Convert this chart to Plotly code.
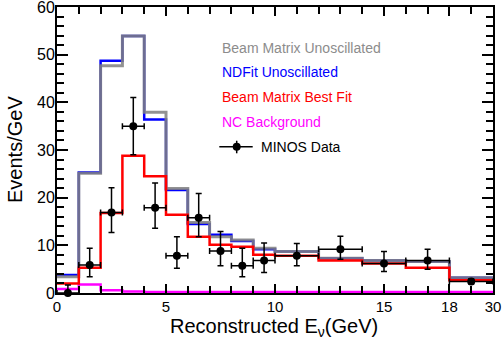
import plotly.graph_objects as go

# ---------------- data ----------------
bin_edges = [0, 1, 2, 3, 4, 5, 6, 7, 8, 9, 10, 12, 14, 16, 18, 30]
beam_unosc = [3.4, 25.1, 47.7, 53.9, 37.9, 21.9, 14.8, 11.8, 11.1, 9.4, 8.7, 7.3, 6.8, 6.6, 3.2]
ndfit_unosc = [3.8, 25.3, 48.7, 53.9, 36.4, 21.6, 14.5, 12.2, 10.9, 9.2, 8.7, 7.3, 6.8, 6.6, 3.2]
beam_bestfit = [2.0, 5.3, 16.8, 28.8, 24.5, 16.4, 11.8, 10.1, 9.7, 8.0, 7.8, 6.8, 6.2, 5.3, 2.7]
nc_background = [0.85, 1.8, 0.6, 0.3, 0.2, 0.2, 0.2, 0.2, 0.2, 0.2, 0.2, 0.2, 0.2, 0.2, 0.2]
data_vals = [0.0, 5.9, 16.9, 35.0, 17.9, 7.8, 15.8, 8.8, 5.7, 6.8, 7.8, 9.2, 6.2, 6.8, 2.4]
data_err_up = [1.7, 3.5, 5.2, 6.0, 5.2, 4.0, 5.1, 4.1, 3.7, 3.7, 2.6, 2.7, 2.5, 2.4, 0.6]
data_err_dn = [0.0, 2.5, 4.2, 6.0, 4.3, 2.6, 4.0, 3.1, 2.3, 2.5, 2.1, 2.1, 1.7, 1.8, 0.5]

x_tick_values = [0, 5, 10, 15, 18, 30]
x_tick_labels = ["0", "5", "10", "15", "18", "30"]
y_tick_values = [0, 10, 20, 30, 40, 50, 60]

legend_labels = ["Beam Matrix Unoscillated", "NDFit Unoscillated",
                 "Beam Matrix Best Fit", "NC Background"]
legend_colors = ["#8c8c8c", "#0000ff", "#ff0000", "#ff00ff"]


# broken x axis: 0-18 GeV linear, 18-30 GeV squeezed into 2 display units
def disp(e):
    return e if e <= 18 else 18 + (e - 18) / 6.0


dx = [disp(e) for e in bin_edges]
centers = [(dx[i] + dx[i + 1]) / 2 for i in range(len(dx) - 1)]
half_w = [(dx[i + 1] - dx[i]) / 2 for i in range(len(dx) - 1)]

FONT = "Liberation Sans, Arial, Helvetica, sans-serif"

fig = go.Figure()


def step(vals, color, width, opacity=1.0):
    fig.add_trace(go.Scatter(
        x=dx, y=list(vals) + [vals[-1]], mode="lines",
        line=dict(color=color, width=width, shape="hv"),
        opacity=opacity, showlegend=False, hoverinfo="skip", cliponaxis=False))


step(nc_background, "#ff00ff", 2.5)
step(ndfit_unosc, "#0000ff", 2.5)
step(beam_unosc, "#808080", 3, 0.85)
step(beam_bestfit, "#ff0000", 2.5)

fig.add_trace(go.Scatter(
    x=centers, y=data_vals, mode="markers",
    marker=dict(color="black", size=8),
    error_y=dict(type="data", symmetric=False, array=data_err_up,
                 arrayminus=data_err_dn, color="black", thickness=1.5, width=3),
    error_x=dict(type="data", array=half_w, color="black", thickness=1.5, width=3),
    showlegend=False, hoverinfo="skip", cliponaxis=False))

# ---------------- layout ----------------
L, R, T, B = 57, 493, 6.5, 293.5
PW, PH = R - L, B - T


def px(x):
    return (x - L) / PW


def py(y):
    return (B - y) / PH


annotations = []
for i, (lab, col) in enumerate(zip(legend_labels, legend_colors)):
    annotations.append(dict(
        x=px(220), y=py(47.3 + 24.8 * i), xref="paper", yref="paper",
        text=lab, showarrow=False, xanchor="left", yanchor="middle",
        font=dict(family=FONT, size=14, color=col)))
annotations.append(dict(
    x=px(259), y=py(146.7), xref="paper", yref="paper", text="MINOS Data",
    showarrow=False, xanchor="left", yanchor="middle",
    font=dict(family=FONT, size=14, color="black")))
annotations.append(dict(
    x=px(274), y=py(328.5), xref="paper", yref="paper",
    text="Reconstructed E<sub>ν</sub>(GeV)", showarrow=False,
    xanchor="center", yanchor="middle",
    font=dict(family=FONT, size=20, color="black")))
annotations.append(dict(
    x=px(15), y=py(150), xref="paper", yref="paper", text="Events/GeV",
    showarrow=False, textangle=-90, xanchor="center", yanchor="middle",
    font=dict(family=FONT, size=20, color="black")))

shapes = [
    dict(type="line", xref="paper", yref="paper", x0=px(219.3), x1=px(252.7),
         y0=py(146.7), y1=py(146.7), line=dict(color="black", width=1.5)),
    dict(type="line", xref="paper", yref="paper", x0=px(236.7), x1=px(236.7),
         y0=py(140.7), y1=py(153.3), line=dict(color="black", width=1.5)),
    dict(type="circle", xref="paper", yref="paper", xsizemode="pixel",
         ysizemode="pixel", xanchor=px(236.7), yanchor=py(146.7),
         x0=-4, x1=4, y0=-4, y1=4, fillcolor="black",
         line=dict(color="black", width=0)),
]

fig.update_layout(
    width=504, height=339,
    margin=dict(l=L, r=504 - R, t=T, b=339 - B, autoexpand=False),
    paper_bgcolor="white", plot_bgcolor="white",
    font=dict(family=FONT, size=14, color="black"),
    annotations=annotations, shapes=shapes, showlegend=False,
)
fig.update_xaxes(
    range=[0, 20], tickvals=[disp(v) for v in x_tick_values], ticktext=x_tick_labels,
    ticks="inside", ticklen=9, tickwidth=1.5, tickcolor="black",
    minor=dict(dtick=1, tick0=0, ticks="inside", ticklen=7, tickwidth=1.5, tickcolor="black"),
    showline=True, linewidth=2, linecolor="black", mirror="ticks",
    showgrid=False, zeroline=False, tickfont=dict(size=15),
    automargin=False, ticklabeloverflow="allow", ticklabelstandoff=-1,
)
fig.update_yaxes(
    range=[0, 60], tickvals=y_tick_values,
    ticks="inside", ticklen=11, tickwidth=1.5, tickcolor="black",
    minor=dict(dtick=2, tick0=0, ticks="inside", ticklen=7, tickwidth=1.5, tickcolor="black"),
    showline=True, linewidth=2, linecolor="black", mirror="ticks",
    showgrid=False, zeroline=False, tickfont=dict(size=16),
    automargin=False, ticklabelstandoff=-3, ticklabeloverflow="allow",
)

fig.write_html(
    "out.html",
    config={"displayModeBar": False},
    post_script="document.body.style.margin='0';document.body.style.overflow='hidden';",
)
